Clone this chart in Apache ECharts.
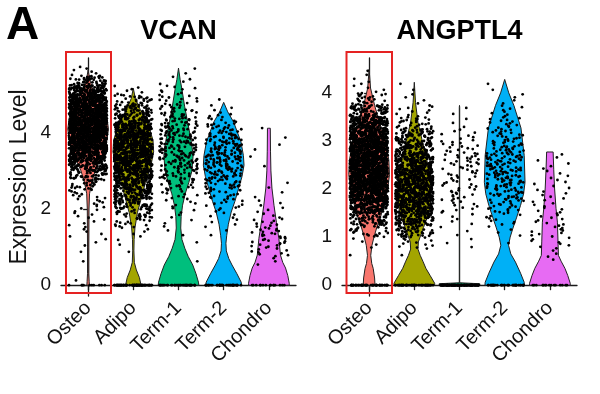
<!DOCTYPE html>
<html>
<head>
<meta charset="utf-8">
<script src="https://cdn.jsdelivr.net/npm/echarts@6/dist/echarts.min.js"></script>
<style>
  html, body { margin: 0; padding: 0; background: #fff; }
  #chart { width: 600px; height: 394px; }
</style>
</head>
<body>
<div id="chart"></div>
<script>
// Violin plots (Seurat VlnPlot style): VCAN and ANGPTL4 expression per cluster

const CELL_TYPES = ['Osteo', 'Adipo', 'Term-1', 'Term-2', 'Chondro'];
const CELL_COLORS = ['#F8766D', '#A3A500', '#00BF7D', '#00B0F6', '#E76BF3'];

// violin outlines, top to bottom: [expression, relative width]
const vcanOsteoShape = [[5.65, 0], [5.4, 0.08], [5.1, 0.25], [4.8, 0.6], [4.5, 0.9], [4.1, 1], [3.7, 0.9], [3.3, 0.6], [3.0, 0.35], [2.7, 0.18], [2.4, 0.07], [2.0, 0.04], [1.0, 0.03], [0.3, 0.03], [0.1, 0.05], [0, 0.06]];
const vcanAdipoShape = [[5.17, 0], [4.9, 0.1], [4.6, 0.35], [4.2, 0.75], [3.8, 0.97], [3.5, 1], [3.1, 0.85], [2.7, 0.6], [2.3, 0.4], [1.9, 0.2], [1.5, 0.08], [1.2, 0.04], [0.9, 0.03], [0.6, 0.05], [0.4, 0.15], [0.2, 0.3], [0, 0.38]];
const vcanTerm1Shape = [[5.7, 0], [5.4, 0.08], [5.17, 0.16], [4.7, 0.3], [4.28, 0.45], [3.8, 0.62], [3.41, 0.72], [3.0, 0.66], [2.7, 0.51], [2.4, 0.33], [2.1, 0.2], [1.8, 0.13], [1.5, 0.11], [1.2, 0.17], [0.97, 0.31], [0.75, 0.48], [0.53, 0.7], [0.3, 0.86], [0.08, 0.98], [0, 1]];
const vcanTerm2Shape = [[4.8, 0], [4.55, 0.2], [4.28, 0.49], [3.76, 0.85], [3.4, 0.97], [3.15, 1], [2.85, 0.9], [2.55, 0.74], [2.2, 0.55], [1.92, 0.37], [1.6, 0.23], [1.31, 0.15], [1.1, 0.11], [0.9, 0.13], [0.7, 0.25], [0.53, 0.41], [0.3, 0.65], [0.08, 0.86], [0, 0.88]];
const vcanChondroShape = [[4.12, 0], [4.12, 0.07], [3.5, 0.08], [3.0, 0.1], [2.55, 0.15], [2.1, 0.25], [1.65, 0.37], [1.23, 0.49], [0.79, 0.57], [0.6, 0.68], [0.45, 0.82], [0.25, 0.93], [0.05, 1], [0, 1]];

const angOsteoShape = [[4.49, 0], [4.1, 0.07], [3.74, 0.27], [3.4, 0.5], [3.0, 0.8], [2.6, 0.97], [2.3, 1], [2.0, 0.92], [1.7, 0.75], [1.4, 0.55], [1.19, 0.37], [1.0, 0.24], [0.83, 0.14], [0.62, 0.08], [0.45, 0.13], [0.35, 0.2], [0.15, 0.27], [0, 0.29]];
const angAdipoShape = [[4.22, 0], [3.8, 0.06], [3.39, 0.18], [2.97, 0.41], [2.6, 0.62], [2.2, 0.78], [1.8, 0.82], [1.5, 0.72], [1.2, 0.45], [0.9, 0.2], [0.75, 0.18], [0.62, 0.29], [0.5, 0.42], [0.35, 0.57], [0.2, 0.78], [0.04, 1], [0, 1]];
const angTerm1Shape = [[3.74, 0], [3.7, 0.01], [0.05, 0.01], [0.03, 1], [0, 1]];
const angTerm2Shape = [[4.28, 0], [4.0, 0.2], [3.74, 0.45], [3.27, 0.8], [2.7, 0.96], [2.14, 1], [1.9, 0.93], [1.66, 0.78], [1.4, 0.58], [1.19, 0.41], [1.0, 0.27], [0.83, 0.19], [0.65, 0.3], [0.48, 0.53], [0.25, 0.78], [0.06, 0.96], [0, 0.97]];
const angChondroShape = [[2.77, 0], [2.77, 0.16], [2.4, 0.19], [2.02, 0.23], [1.6, 0.3], [1.31, 0.37], [0.9, 0.4], [0.62, 0.42], [0.5, 0.55], [0.35, 0.74], [0.2, 0.88], [0.04, 1], [0, 1]];

// cell counts per 0.25 expression bin (bin 0 = 0..0.25)
const BIN = 0.25;
const vcanOsteoCounts = [1, 0, 1, 1, 3, 4, 5, 6, 8, 10, 22, 45, 95, 160, 220, 260, 270, 270, 250, 210, 130, 45, 6];
const vcanAdipoCounts = [0, 0, 0, 1, 2, 4, 15, 30, 55, 85, 110, 130, 150, 160, 160, 150, 125, 85, 50, 25, 6];
const vcanTerm1Counts = [0, 0, 1, 0, 1, 2, 3, 4, 6, 10, 18, 25, 30, 35, 35, 35, 30, 25, 18, 12, 8, 4, 2];
const vcanTerm2Counts = [0, 0, 0, 0, 0, 2, 4, 6, 10, 15, 22, 30, 35, 38, 35, 30, 20, 10, 4, 1];
const vcanChondroCounts = [0, 0, 3, 10, 14, 14, 10, 5, 4, 2, 2, 0, 1, 1, 2, 1, 1];
const vcanZeroCounts = [10, 70, 35, 35, 15];

const angOsteoCounts = [0, 0, 1, 4, 25, 70, 150, 230, 280, 300, 300, 280, 225, 160, 80, 25, 6, 3];
const angAdipoCounts = [0, 0, 1, 12, 50, 105, 150, 175, 175, 160, 130, 95, 60, 25, 10, 4, 2];
const angTerm1Counts = [0, 0, 0, 3, 3, 5, 10, 14, 12, 14, 18, 14, 8, 3, 2];
const angTerm2Counts = [0, 0, 0, 1, 4, 10, 18, 28, 35, 38, 35, 28, 20, 14, 8, 4, 2];
const angChondroCounts = [0, 0, 4, 8, 10, 9, 8, 7, 6, 5, 4];
const angZeroCounts = [50, 50, 120, 35, 15];

const VCAN_TICKS = [0, 2, 4];
const ANG_TICKS = [0, 1, 2, 3, 4];
const VCAN_RANGE = [-0.284, 5.964];
const ANG_RANGE = [-0.225, 4.725];

const vcanShapes = [vcanOsteoShape, vcanAdipoShape, vcanTerm1Shape, vcanTerm2Shape, vcanChondroShape];
const angShapes = [angOsteoShape, angAdipoShape, angTerm1Shape, angTerm2Shape, angChondroShape];
const vcanCounts = [vcanOsteoCounts, vcanAdipoCounts, vcanTerm1Counts, vcanTerm2Counts, vcanChondroCounts];
const angCounts = [angOsteoCounts, angAdipoCounts, angTerm1Counts, angTerm2Counts, angChondroCounts];

const FONT = "'Liberation Sans', Arial, sans-serif";
const HALF_WIDTH = 0.45;  // violin max width = 0.9 of category spacing
const AXIS_COLOR = '#1a1a1a';
const DOT_SIZE = 2.8;

/**
 * Turn per-bin counts into [category, expression] points for the jitter scatter
 */
function buildDots(countsList, zeroCounts) {
    const pts = [];
    countsList.forEach((counts, cat) => {
        for (let k = 0; k < zeroCounts[cat]; k++) pts.push([cat, 0]);
        counts.forEach((n, b) => {
            for (let k = 0; k < n; k++) pts.push([cat, (b + (k + 0.5) / n) * BIN]);
        });
    });
    return pts;
}

function renderViolin(shapes) {
    return function (params, api) {
        const cat = api.value(0);
        const shape = shapes[cat];
        const right = shape.map(([y, w]) => api.coord([cat + w * HALF_WIDTH, y]));
        const left = shape.slice().reverse().map(([y, w]) => api.coord([cat - w * HALF_WIDTH, y]));
        return {
            type: 'polygon',
            shape: { points: right.concat(left) },
            style: { fill: CELL_COLORS[cat], stroke: '#222', lineWidth: 1 }
        };
    };
}

function mainXAxis(gridIndex) {
    return {
        type: 'value', gridIndex, min: -0.6, max: 4.6,
        splitLine: { show: false },
        axisLine: { lineStyle: { color: AXIS_COLOR, width: 1.3 } },
        axisTick: { customValues: [0, 1, 2, 3, 4], length: 5, lineStyle: { color: AXIS_COLOR, width: 1.3 } },
        axisLabel: {
            customValues: [0, 1, 2, 3, 4], rotate: 45, margin: 9,
            formatter: v => CELL_TYPES[Math.round(v)],
            color: '#111', fontSize: 20, fontFamily: FONT
        }
    };
}

function mainYAxis(gridIndex, range, ticks, name) {
    return {
        type: 'value', gridIndex, min: range[0], max: range[1],
        name, nameLocation: 'middle', nameGap: 30, nameRotate: 90,
        nameTextStyle: { fontSize: 23, fontFamily: FONT, color: '#111' },
        splitLine: { show: false },
        axisLine: { show: true, lineStyle: { color: AXIS_COLOR, width: 1.3 } },
        axisTick: { show: true, customValues: ticks, length: 5, lineStyle: { color: AXIS_COLOR, width: 1.3 } },
        axisLabel: { customValues: ticks, margin: 10, color: '#111', fontSize: 19, fontFamily: FONT }
    };
}

function dotXAxis(gridIndex) {
    return {
        type: 'category', gridIndex, data: CELL_TYPES, jitter: 38, jitterOverlap: true,
        axisLine: { show: false }, axisTick: { show: false }, axisLabel: { show: false }, splitLine: { show: false }
    };
}

function dotYAxis(gridIndex, range) {
    return {
        type: 'value', gridIndex, min: range[0], max: range[1],
        axisLine: { show: false }, axisTick: { show: false }, axisLabel: { show: false }, splitLine: { show: false }
    };
}

function dotSeries(axisIndex, data) {
    return {
        type: 'scatter', xAxisIndex: axisIndex, yAxisIndex: axisIndex, z: 3, silent: true,
        progressive: 0, large: false,
        symbolSize: DOT_SIZE, itemStyle: { color: '#000', opacity: 1 },
        data
    };
}

const chart = echarts.init(document.getElementById('chart'));

const option = {
    animation: false,
    backgroundColor: '#fff',
    grid: [
        { left: 61, top: 58, width: 235, height: 238 },
        { left: 342, top: 58, width: 235, height: 238 },
        { left: 65.25, top: 58, width: 226.5, height: 238 },
        { left: 346.25, top: 58, width: 226.5, height: 238 }
    ],
    xAxis: [mainXAxis(0), mainXAxis(1), dotXAxis(2), dotXAxis(3)],
    yAxis: [
        mainYAxis(0, VCAN_RANGE, VCAN_TICKS, 'Expression Level'),
        mainYAxis(1, ANG_RANGE, ANG_TICKS, ''),
        dotYAxis(2, VCAN_RANGE),
        dotYAxis(3, ANG_RANGE)
    ],
    graphic: [
        { type: 'text', x: 6, y: 26, style: { text: 'A', fontSize: 46, fontWeight: 'bold', fontFamily: FONT, fill: '#000', verticalAlign: 'middle' } },
        { type: 'text', x: 178.5, y: 32, style: { text: 'VCAN', fontSize: 27, fontWeight: 'bold', fontFamily: FONT, fill: '#000', align: 'center', verticalAlign: 'middle' } },
        { type: 'text', x: 459.5, y: 32, style: { text: 'ANGPTL4', fontSize: 27, fontWeight: 'bold', fontFamily: FONT, fill: '#000', align: 'center', verticalAlign: 'middle' } },
        // red highlight boxes around the Osteo column
        { type: 'rect', z: 100, shape: { x: 66, y: 52, width: 45, height: 241 }, style: { fill: 'none', stroke: '#e52222', lineWidth: 2 } },
        { type: 'rect', z: 100, shape: { x: 346.5, y: 52, width: 45.5, height: 241 }, style: { fill: 'none', stroke: '#e52222', lineWidth: 2 } }
    ],
    series: [
        {
            type: 'custom', xAxisIndex: 0, yAxisIndex: 0, z: 1, silent: true,
            renderItem: renderViolin(vcanShapes),
            data: CELL_TYPES.map((_, i) => [i])
        },
        {
            type: 'custom', xAxisIndex: 1, yAxisIndex: 1, z: 1, silent: true,
            renderItem: renderViolin(angShapes),
            data: CELL_TYPES.map((_, i) => [i])
        },
        dotSeries(2, buildDots(vcanCounts, vcanZeroCounts)),
        dotSeries(3, buildDots(angCounts, angZeroCounts))
    ]
};

chart.setOption(option);
</script>
</body>
</html>
